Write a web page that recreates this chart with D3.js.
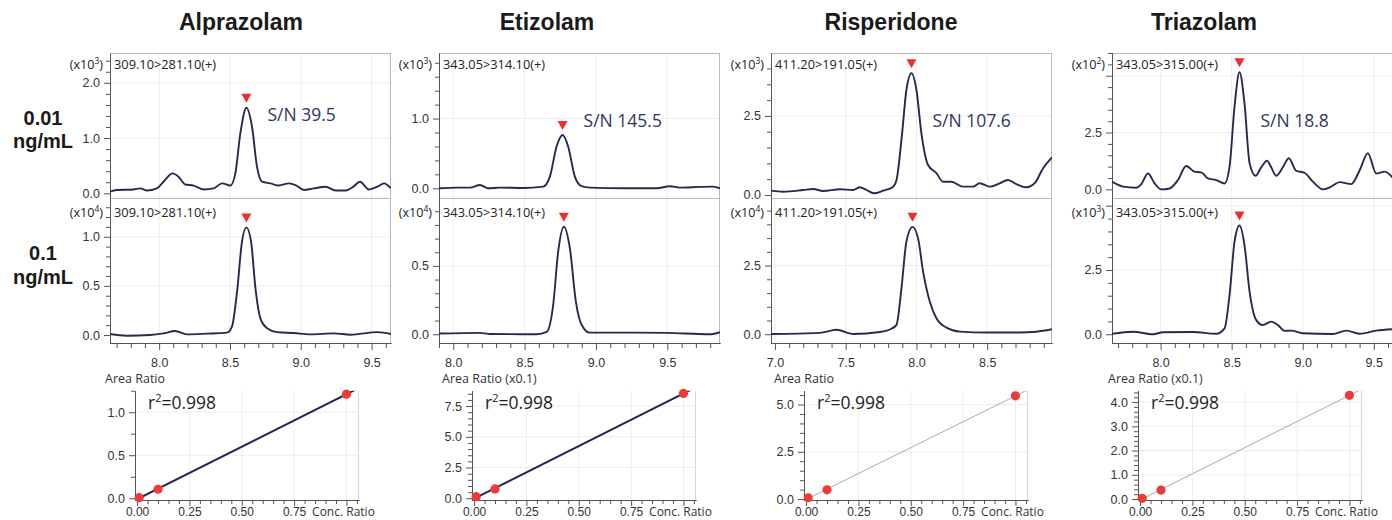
<!DOCTYPE html>
<meta charset="utf-8">
<script src="https://d3js.org/d3.v7.min.js"></script>
<style>
  body { margin: 0; background: #fff; }
  svg { display: block; font-family: "Open Sans", sans-serif; }
  .tick text { fill: #333; }
</style>
<body>
<svg id="fig" width="1392" height="520"></svg>
<script>
"use strict"

// ---- data ----
var compounds = ["Alprazolam", "Etizolam", "Risperidone", "Triazolam"]
var transitions = ["309.10>281.10(+)", "343.05>314.10(+)", "411.20>191.05(+)", "343.05>315.00(+)"]
var concLabels = ["0.01", "0.1"]
var lowExponent = ["3", "3", "3", "2"]
var highExponent = ["4", "4", "4", "3"]
var snRatios = ["39.5", "145.5", "107.6", "18.8"]
var rSquared = ["0.998", "0.998", "0.998", "0.998"]
var calYLabels = ["Area Ratio", "Area Ratio (x0.1)", "Area Ratio", "Area Ratio (x0.1)"]
var calXTicks = ["0.00", "0.25", "0.50", "0.75"]

// calibration points (conc. ratio vs area ratio)
var concRatio = [0.01, 0.1, 1.0]
var areaAlprazolam = [0.007, 0.105, 1.21]
var areaEtizolam = [0.13, 0.76, 8.53]
var areaRisperidone = [0.07, 0.49, 5.46]
var areaTriazolam = [0.03, 0.37, 4.28]

// chromatograms: [retention time (min), intensity]
var alprazolamLow = [[7.653,0.03],[7.70,0.06],[7.818,0.07],[7.866,0.09],[7.913,0.05],[7.984,0.09],[8.031,0.21],
  [8.095,0.36],[8.137,0.30],[8.184,0.16],[8.243,0.14],[8.314,0.07],[8.385,0.09],[8.444,0.18],[8.503,0.14],
  [8.538,0.36],[8.573,1.08],[8.616,1.55],[8.656,1.20],[8.691,0.48],[8.727,0.21],[8.786,0.18],[8.845,0.14],
  [8.916,0.18],[8.963,0.15],[9.022,0.06],[9.093,0.09],[9.175,0.12],[9.246,0.05],[9.317,0.05],[9.371,0.12],
  [9.418,0.21],[9.482,0.07],[9.541,0.12],[9.588,0.18],[9.637,0.09]]
var alprazolamHigh = [[7.653,0.01],[7.771,-0.007],[7.936,0.0],[8.031,0.017],[8.113,0.041],[8.196,0.007],
  [8.337,0.014],[8.479,0.024],[8.514,0.085],[8.550,0.44],[8.585,0.95],[8.616,1.095],[8.649,0.95],[8.680,0.475],
  [8.715,0.17],[8.762,0.07],[8.833,0.03],[8.951,0.02],[9.069,0.007],[9.234,0.017],[9.352,0.003],[9.541,0.03],
  [9.637,0.01]]
var etizolamLow = [[7.900,0.0],[8.024,0.01],[8.117,0.01],[8.187,0.047],[8.245,0.0],[8.327,0.01],[8.490,0.005],
  [8.630,0.024],[8.677,0.167],[8.724,0.60],[8.766,0.765],[8.805,0.60],[8.852,0.167],[8.899,0.03],[8.957,0.01],
  [9.191,0.0],[9.424,0.0],[9.518,0.03],[9.588,0.01],[9.728,0.02],[9.821,0.024],[9.869,0.0]]
var etizolamHigh = [[7.900,0.005],[8.187,0.01],[8.257,0.002],[8.584,0.0],[8.654,0.017],[8.700,0.214],
  [8.735,0.604],[8.775,0.787],[8.817,0.63],[8.859,0.239],[8.899,0.07],[8.957,0.012],[9.284,0.012],
  [9.494,0.01],[9.798,0.0],[9.869,0.015]]
var risperidoneLow = [[6.972,0.137],[7.059,0.105],[7.200,0.158],[7.270,0.19],[7.341,0.127],[7.459,0.18],
  [7.553,0.158],[7.600,0.243],[7.647,0.158],[7.699,0.053],[7.765,0.137],[7.835,0.264],[7.859,0.475],
  [7.894,1.74],[7.929,3.32],[7.965,3.85],[8.000,3.32],[8.035,1.95],[8.082,0.95],[8.141,0.69],[8.188,0.42],
  [8.247,0.42],[8.329,0.264],[8.400,0.264],[8.447,0.37],[8.518,0.264],[8.588,0.37],[8.647,0.475],[8.706,0.34],
  [8.776,0.243],[8.835,0.37],[8.894,0.84],[8.958,1.19]]
var risperidoneHigh = [[6.972,0.01],[7.318,0.05],[7.435,0.16],[7.553,0.01],[7.741,0.08],[7.823,0.20],
  [7.859,0.34],[7.894,1.67],[7.929,3.37],[7.972,3.91],[8.012,3.48],[8.047,2.28],[8.094,1.19],[8.141,0.58],
  [8.212,0.24],[8.306,0.095],[8.494,0.06],[8.729,0.06],[8.847,0.09],[8.958,0.18]]
var triazolamLow = [[7.658,0.34],[7.736,0.12],[7.829,0.07],[7.864,0.23],[7.911,0.70],[7.958,0.26],[8.005,0.0],
  [8.063,0.04],[8.122,0.41],[8.180,1.03],[8.239,0.78],[8.286,0.75],[8.333,0.48],[8.391,0.41],[8.450,0.26],
  [8.485,1.0],[8.520,3.64],[8.555,5.15],[8.590,3.79],[8.626,1.15],[8.668,0.6],[8.708,0.97],[8.748,1.26],
  [8.778,0.97],[8.813,0.6],[8.860,0.97],[8.902,1.37],[8.954,0.82],[9.012,0.73],[9.071,0.34],[9.141,0.0],
  [9.200,0.12],[9.259,0.32],[9.341,0.23],[9.399,0.82],[9.458,1.59],[9.517,0.70],[9.576,0.78],[9.635,0.50]]
var triazolamHigh = [[7.658,0.02],[7.806,0.10],[7.946,0.0],[8.017,0.08],[8.228,0.09],[8.392,0.02],[8.450,0.23],
  [8.485,1.53],[8.520,3.60],[8.555,4.23],[8.590,3.47],[8.626,1.66],[8.672,0.56],[8.719,0.36],[8.778,0.49],
  [8.825,0.36],[8.872,0.13],[8.919,0.14],[9.000,0.04],[9.211,0.01],[9.305,0.14],[9.399,0.02],[9.516,0.14],
  [9.635,0.20]]

var traces = [
  [alprazolamLow, etizolamLow, risperidoneLow, triazolamLow],
  [alprazolamHigh, etizolamHigh, risperidoneHigh, triazolamHigh]
]
var calAreas = [areaAlprazolam, areaEtizolam, areaRisperidone, areaTriazolam]

// ---- layout ----
var titleX = [241, 547, 891, 1204]
var chromLeft = [110, 439, 771, 1112], chromW = 281
var rowTop = [53, 198], rowH = 145
var headerY = [69, 216.5]
var rtDomain = [[7.653, 9.637], [7.9, 9.869], [6.972, 8.958], [7.658, 9.635]]
var intDomain = [
  [[-0.085, 2.54], [-0.139, 1.94], [-0.095, 4.49], [-0.38, 6.0]],
  [[-0.081, 1.394], [-0.064, 0.997], [-0.32, 4.96], [-0.34, 5.3]]
]
var intMajor = [[1, 1, 2.5, 2.5], [0.5, 0.5, 2.5, 2.5]]
var intMinor = [[0.2, 0.2, 0.5, 0.5], [0.1, 0.1, 0.5, 0.5]]
var snY = [121, 127, 127, 127]

var calLeft = [135, 472, 804, 1138], calW = 224, calTop = 390.7, calBottom = 500
var calXDomain = [-0.01, 1.06]
var calYDomain = [[-0.02, 1.25], [-0.14, 8.75], [-0.05, 5.73], [-0.04, 4.47]]
var calMajor = [0.5, 2.5, 2.5, 1.0]
var calMinor = [0.25, 0.5, 0.5, 0.2]
var calLine = [{c: "#23264f", w: 2}, {c: "#23264f", w: 2}, {c: "#aaa6c4", w: 1}, {c: "#aaa6c4", w: 1}]

var NAVY = "#262a52", RED = "#ec2f2b", GRID = "#ededed", FRAME = "#b9b9b9", AXIS = "#555"
var BOLD_FONT = "'Liberation Sans', Arial, sans-serif"
var fmt1 = d3.format(".1f")

var svg = d3.select("#fig")
var defs = svg.append("defs")

function steps(lo, hi, step) {
  var out = []
  for (var k = Math.ceil(lo / step - 1e-6); k * step <= hi + 1e-9; k++) out.push(+(k * step).toFixed(4))
  return out
}
function notIn(list) {
  return function(v) { return !list.some(function(m) { return Math.abs(m - v) < 1e-6 }) }
}
function styleAxis(g, size) {
  g.selectAll("path.domain").attr("stroke", AXIS)
  g.selectAll(".tick line").attr("stroke", AXIS)
  g.selectAll(".tick text").attr("font-size", size || 12.5)
}

// titles
svg.selectAll("text.title").data(compounds).enter().append("text")
  .attr("class", "title")
  .attr("x", function(d, i) { return titleX[i] })
  .attr("y", 30)
  .attr("text-anchor", "middle")
  .attr("font-family", BOLD_FONT)
  .attr("font-size", 23).attr("font-weight", "bold").attr("fill", "#1a1a1a")
  .text(function(d) { return d })

// row labels
var rowLabelY = [[125, 148], [260, 284]]
concLabels.forEach(function(c, r) {
  var t = svg.append("text").attr("text-anchor", "middle").attr("font-size", 20)
    .attr("font-family", BOLD_FONT).attr("font-weight", "bold").attr("fill", "#1a1a1a")
  t.append("tspan").attr("x", 43).attr("y", rowLabelY[r][0]).text(c)
  t.append("tspan").attr("x", 43).attr("y", rowLabelY[r][1]).text("ng/mL")
})

// ---- chromatogram panels ----
function chromPanel(col, row) {
  var left = chromLeft[col], top = rowTop[row], bottom = top + rowH
  var dom = intDomain[row][col]
  var x = d3.scaleLinear().domain(rtDomain[col]).range([left, left + chromW])
  var y = d3.scaleLinear().domain(dom).range([bottom, top])
  var g = svg.append("g")
  var data = traces[row][col]

  var yMaj = steps(0, dom[1], intMajor[row][col])
  var yMin = steps(0, dom[1], intMinor[row][col]).filter(notIn(yMaj))
  var xMaj = steps(rtDomain[col][0], rtDomain[col][1], 0.5)
  var xMin = steps(rtDomain[col][0], rtDomain[col][1], 0.1).filter(notIn(xMaj))

  // grid
  g.selectAll("line.gx").data(xMaj).enter().append("line")
    .attr("x1", x).attr("x2", x).attr("y1", top).attr("y2", bottom)
    .attr("stroke", GRID)
  g.selectAll("line.gy").data(yMaj.filter(function(v) { return v > 0 })).enter().append("line")
    .attr("x1", left).attr("x2", left + chromW).attr("y1", y).attr("y2", y)
    .attr("stroke", GRID)

  // frame
  g.append("line").attr("x1", left).attr("x2", left + chromW).attr("y1", top + 0.5).attr("y2", top + 0.5)
    .attr("stroke", FRAME)
  g.append("line").attr("x1", left + chromW - 0.5).attr("x2", left + chromW - 0.5).attr("y1", top).attr("y2", bottom)
    .attr("stroke", FRAME)

  // left axis
  var ax = g.append("g").attr("transform", "translate(" + left + ",0)")
    .call(d3.axisLeft(y).tickValues(yMaj).tickSize(6).tickSizeOuter(0).tickPadding(4)
      .tickFormat(function(v) { return y(v) > top + 24 ? fmt1(v) : "" }))
  styleAxis(ax)
  var axm = g.append("g").attr("transform", "translate(" + left + ",0)")
    .call(d3.axisLeft(y).tickValues(yMin).tickSize(4).tickSizeOuter(0).tickFormat(""))
  styleAxis(axm)

  // bottom axis on lower row
  if (row === 1) {
    var bx = g.append("g").attr("transform", "translate(0," + bottom + ")")
      .call(d3.axisBottom(x).tickValues(xMaj).tickSize(7).tickSizeOuter(0).tickPadding(8).tickFormat(fmt1))
    styleAxis(bx)
    var bxm = g.append("g").attr("transform", "translate(0," + bottom + ")")
      .call(d3.axisBottom(x).tickValues(xMin).tickSize(5).tickSizeOuter(0).tickFormat(""))
    styleAxis(bxm)
  }

  // trace
  var cid = "clip-" + row + "-" + col
  defs.append("clipPath").attr("id", cid).append("rect")
    .attr("x", left).attr("y", top).attr("width", chromW).attr("height", rowH)
  g.append("path").datum(data)
    .attr("clip-path", "url(#" + cid + ")")
    .attr("fill", "none").attr("stroke", NAVY).attr("stroke-width", 1.9).attr("stroke-linejoin", "round")
    .attr("d", d3.line().x(function(d) { return x(d[0]) }).y(function(d) { return y(d[1]) })
      .curve(d3.curveMonotoneX))

  // peak marker
  var peak = data.reduce(function(a, b) { return b[1] > a[1] ? b : a })
  var px = x(peak[0]), py = y(peak[1])
  g.append("path")
    .attr("d", "M" + (px - 5) + "," + (py - 14) + "L" + (px + 5) + "," + (py - 14) + "L" + px + "," + (py - 5) + "Z")
    .attr("fill", RED)

  // headers
  var exp = row === 0 ? lowExponent[col] : highExponent[col]
  var hy = headerY[row]
  var h = g.append("text").attr("x", left - 7).attr("y", hy).attr("text-anchor", "end")
    .attr("font-size", 12.6).attr("fill", "#222")
  h.append("tspan").text("(x10")
  h.append("tspan").attr("font-size", 8.5).attr("dy", -5).text(exp)
  h.append("tspan").attr("dy", 5).text(")")
  g.append("text").attr("x", left + 4).attr("y", hy).attr("font-size", 12.8).attr("fill", "#222")
    .text(transitions[col])

  if (row === 0) {
    g.append("text").attr("x", px + 21).attr("y", snY[col]).attr("font-size", 17.5).attr("fill", "#2f3563")
      .text("S/N " + snRatios[col])
  }
}

for (var col = 0; col < 4; col++) {
  chromPanel(col, 0)
  chromPanel(col, 1)
}

// ---- calibration panels ----
function calPanel(col) {
  var left = calLeft[col], right = left + calW
  var x = d3.scaleLinear().domain(calXDomain).range([left, right])
  var y = d3.scaleLinear().domain(calYDomain[col]).range([calBottom, calTop])
  var g = svg.append("g")
  var areas = calAreas[col]
  var pts = concRatio.map(function(c, i) { return [c, areas[i]] })

  var yMaj = steps(0, calYDomain[col][1], calMajor[col])
  var yMin = steps(0, calYDomain[col][1], calMinor[col]).filter(notIn(yMaj))
  var xMaj = steps(0, calXDomain[1], 0.25)
  var xMin = steps(0, calXDomain[1], 0.05).filter(notIn(xMaj))

  g.selectAll("line.gx").data(xMaj.filter(function(v) { return v > 0 })).enter().append("line")
    .attr("x1", x).attr("x2", x).attr("y1", calTop).attr("y2", calBottom).attr("stroke", GRID)
  g.selectAll("line.gy").data(yMaj.filter(function(v) { return v > 0 })).enter().append("line")
    .attr("x1", left).attr("x2", right).attr("y1", y).attr("y2", y).attr("stroke", GRID)
  g.append("line").attr("x1", right - 0.5).attr("x2", right - 0.5).attr("y1", calTop).attr("y2", calBottom)
    .attr("stroke", "#d6d6d6")

  var ax = g.append("g").attr("transform", "translate(" + left + ",0)")
    .call(d3.axisLeft(y).tickValues(yMaj).tickSize(6).tickSizeOuter(0).tickPadding(4).tickFormat(fmt1))
  styleAxis(ax)
  var axm = g.append("g").attr("transform", "translate(" + left + ",0)")
    .call(d3.axisLeft(y).tickValues(yMin).tickSize(4).tickSizeOuter(0).tickFormat(""))
  styleAxis(axm)
  var bx = g.append("g").attr("transform", "translate(0," + calBottom + ")")
    .call(d3.axisBottom(x).tickValues(xMaj).tickSize(6).tickSizeOuter(0).tickPadding(1)
      .tickFormat(function(v, i) { return calXTicks[i] || "" }))
  styleAxis(bx, 12)
  var bxm = g.append("g").attr("transform", "translate(0," + calBottom + ")")
    .call(d3.axisBottom(x).tickValues(xMin).tickSize(4).tickSizeOuter(0).tickFormat(""))
  styleAxis(bxm)

  // least-squares fit line
  var mx = d3.mean(pts, function(p) { return p[0] }), my = d3.mean(pts, function(p) { return p[1] })
  var sxy = d3.sum(pts, function(p) { return (p[0] - mx) * (p[1] - my) })
  var sxx = d3.sum(pts, function(p) { return (p[0] - mx) * (p[0] - mx) })
  var slope = sxy / sxx, icpt = my - slope * mx
  var cid = "cclip-" + col
  defs.append("clipPath").attr("id", cid).append("rect")
    .attr("x", left).attr("y", calTop).attr("width", calW).attr("height", calBottom - calTop)
  var fit = [0, calXDomain[1]].map(function(v) { return [v, icpt + slope * v] })
  g.append("path").datum(fit).attr("clip-path", "url(#" + cid + ")")
    .attr("fill", "none").attr("stroke", calLine[col].c).attr("stroke-width", calLine[col].w)
    .attr("d", d3.line().x(function(d) { return x(d[0]) }).y(function(d) { return y(d[1]) }))

  g.selectAll("circle").data(pts).enter().append("circle")
    .attr("cx", function(d) { return x(d[0]) }).attr("cy", function(d) { return y(d[1]) })
    .attr("r", 4.6).attr("fill", "#ee3a38")

  var r = g.append("text").attr("x", left + 13).attr("y", 409).attr("font-size", 17.5).attr("fill", "#222")
  r.append("tspan").text("r")
  r.append("tspan").attr("font-size", 11).attr("dy", -7).text("2")
  r.append("tspan").attr("dy", 7).text("=" + rSquared[col])

  g.append("text").attr("x", left - 30).attr("y", 382.5).attr("font-size", 12.5).attr("fill", "#333")
    .text(calYLabels[col])
  g.append("text").attr("x", x(0.75) + 18).attr("y", 515.5).attr("font-size", 12).attr("fill", "#333")
    .text("Conc. Ratio")
}

for (var c = 0; c < 4; c++) calPanel(c)
</script>
